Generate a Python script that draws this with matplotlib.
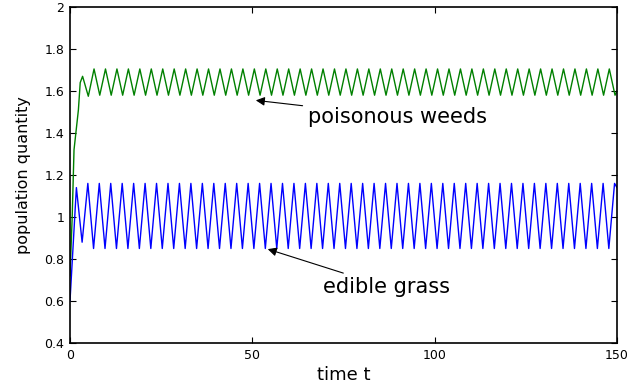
import numpy as np
import matplotlib
matplotlib.use('Agg')
import matplotlib.pyplot as plt

# turning points (time, population)
blue_t = [0, 1.75, 3.32, 4.89, 6.46, 8.03, 9.60, 11.17, 12.74, 14.31,
          15.88, 17.45, 19.02, 20.59, 22.16, 23.73, 25.30, 26.87, 28.44, 30.01,
          31.58, 33.15, 34.72, 36.29, 37.86, 39.43, 41.00, 42.57, 44.14, 45.71,
          47.28, 48.85, 50.42, 51.99, 53.56, 55.13, 56.70, 58.27, 59.84, 61.41,
          62.98, 64.55, 66.12, 67.69, 69.26, 70.83, 72.40, 73.97, 75.54, 77.11,
          78.68, 80.25, 81.82, 83.39, 84.96, 86.53, 88.10, 89.67, 91.24, 92.81,
          94.38, 95.95, 97.52, 99.09, 100.66, 102.23, 103.80, 105.37, 106.94, 108.51,
          110.08, 111.65, 113.22, 114.79, 116.36, 117.93, 119.50, 121.07, 122.64, 124.21,
          125.78, 127.35, 128.92, 130.49, 132.06, 133.63, 135.20, 136.77, 138.34, 139.91,
          141.48, 143.05, 144.62, 146.19, 147.76, 149.33, 150]
blue_y = [0.60, 1.14, 0.88, 1.16, 0.85, 1.16, 0.85, 1.16, 0.85, 1.16,
          0.85, 1.16, 0.85, 1.16, 0.85, 1.16, 0.85, 1.16, 0.85, 1.16,
          0.85, 1.16, 0.85, 1.16, 0.85, 1.16, 0.85, 1.16, 0.85, 1.16,
          0.85, 1.16, 0.85, 1.16, 0.85, 1.16, 0.85, 1.16, 0.85, 1.16,
          0.85, 1.16, 0.85, 1.16, 0.85, 1.16, 0.85, 1.16, 0.85, 1.16,
          0.85, 1.16, 0.85, 1.16, 0.85, 1.16, 0.85, 1.16, 0.85, 1.16,
          0.85, 1.16, 0.85, 1.16, 0.85, 1.16, 0.85, 1.16, 0.85, 1.16,
          0.85, 1.16, 0.85, 1.16, 0.85, 1.16, 0.85, 1.16, 0.85, 1.16,
          0.85, 1.16, 0.85, 1.16, 0.85, 1.16, 0.85, 1.16, 0.85, 1.16,
          0.85, 1.16, 0.85, 1.16, 0.85, 1.16, 1.14]

green_t = [0, 0.6, 1.1, 2.3, 2.8, 3.45, 5.02, 6.59, 8.16, 9.73,
           11.30, 12.87, 14.44, 16.01, 17.58, 19.15, 20.72, 22.29, 23.86, 25.43,
           27.00, 28.57, 30.14, 31.71, 33.28, 34.85, 36.42, 37.99, 39.56, 41.13,
           42.70, 44.27, 45.84, 47.41, 48.98, 50.55, 52.12, 53.69, 55.26, 56.83,
           58.40, 59.97, 61.54, 63.11, 64.68, 66.25, 67.82, 69.39, 70.96, 72.53,
           74.10, 75.67, 77.24, 78.81, 80.38, 81.95, 83.52, 85.09, 86.66, 88.23,
           89.80, 91.37, 92.94, 94.51, 96.08, 97.65, 99.22, 100.79, 102.36, 103.93,
           105.50, 107.07, 108.64, 110.21, 111.78, 113.35, 114.92, 116.49, 118.06, 119.63,
           121.20, 122.77, 124.34, 125.91, 127.48, 129.05, 130.62, 132.19, 133.76, 135.33,
           136.90, 138.47, 140.04, 141.61, 143.18, 144.75, 146.32, 147.89, 149.46, 150]
green_y = [0.72, 1.00, 1.32, 1.51, 1.64, 1.67, 1.575, 1.705, 1.58, 1.705,
           1.58, 1.705, 1.58, 1.705, 1.58, 1.705, 1.58, 1.705, 1.58, 1.705,
           1.58, 1.705, 1.58, 1.705, 1.58, 1.705, 1.58, 1.705, 1.58, 1.705,
           1.58, 1.705, 1.58, 1.705, 1.58, 1.705, 1.58, 1.705, 1.58, 1.705,
           1.58, 1.705, 1.58, 1.705, 1.58, 1.705, 1.58, 1.705, 1.58, 1.705,
           1.58, 1.705, 1.58, 1.705, 1.58, 1.705, 1.58, 1.705, 1.58, 1.705,
           1.58, 1.705, 1.58, 1.705, 1.58, 1.705, 1.58, 1.705, 1.58, 1.705,
           1.58, 1.705, 1.58, 1.705, 1.58, 1.705, 1.58, 1.705, 1.58, 1.705,
           1.58, 1.705, 1.58, 1.705, 1.58, 1.705, 1.58, 1.705, 1.58, 1.705,
           1.58, 1.705, 1.58, 1.705, 1.58, 1.705, 1.58, 1.705, 1.58, 1.60]

x_ticks = [0, 50, 100, 150]
y_ticks = [0.4, 0.6, 0.8, 1, 1.2, 1.4, 1.6, 1.8, 2]
y_labels = ['0.4', '0.6', '0.8', '1', '1.2', '1.4', '1.6', '1.8', '2']

fig = plt.figure(figsize=(6.37, 3.87), dpi=100)
ax = fig.add_axes([0.1099, 0.1137, 0.8587, 0.8682])

ax.plot(green_t, green_y, color='#008000', lw=1.0, solid_joinstyle='round')
ax.plot(blue_t, blue_y, color='#0000ff', lw=1.0, solid_joinstyle='round')

ax.set_xlim(0, 150)
ax.set_ylim(0.4, 2)
ax.set_xticks(x_ticks)
ax.set_yticks(y_ticks)
ax.set_yticklabels(y_labels)
ax.tick_params(direction='in', length=4.5, width=0.8, labelsize=9,
               top=True, right=True, pad=4)
for s in ax.spines.values():
    s.set_linewidth(1.2)

ax.set_xlabel('time t', fontsize=13, labelpad=3)
ax.set_ylabel('population quantity', fontsize=11.5, labelpad=10)

arrow = dict(arrowstyle='-|>', color='k', lw=0.8, mutation_scale=13)
ax.annotate('poisonous weeds', xy=(50.2, 1.557), xytext=(65.3, 1.478),
            fontsize=15, va='center', ha='left', arrowprops=arrow)
ax.annotate('edible grass', xy=(53.5, 0.851), xytext=(69.3, 0.668),
            fontsize=15, va='center', ha='left', arrowprops=arrow)

plt.savefig('out.png', dpi=100)
